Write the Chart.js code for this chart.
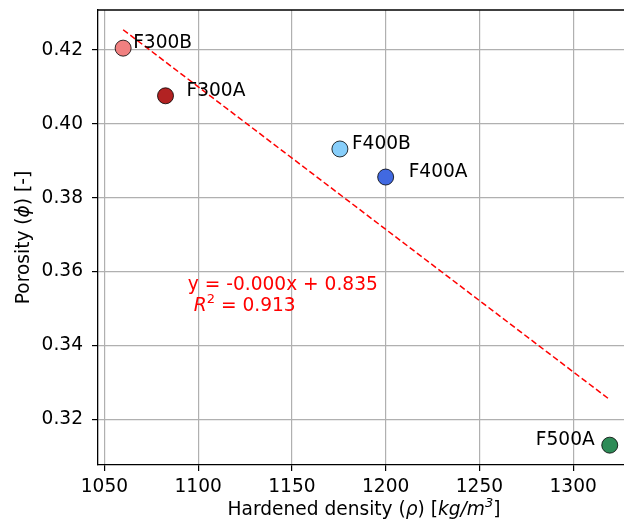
<!DOCTYPE html>
<html>
<head>
<meta charset="utf-8">
<script src="https://cdn.jsdelivr.net/npm/chart.js@4/dist/chart.umd.min.js"></script>
<style>
  html, body { margin: 0; padding: 0; background: #fff; overflow: hidden; }
</style>
</head>
<body>
<canvas id="chart" width="624" height="528"></canvas>
<script>
//DATA
const sampleNames = ["F300B", "F300A", "F400B", "F400A", "F500A"];
const densities = [1060.0, 1082.6, 1175.6, 1200.0, 1319.5]; // kg/m3
const porosities = [0.4205, 0.4076, 0.3932, 0.3856, 0.313];
const xTickValues = [1050, 1100, 1150, 1200, 1250, 1300];
const yTickValues = [0.32, 0.34, 0.36, 0.38, 0.4, 0.42];
const fitText = ["y = -0.000x + 0.835", "0.913"];

//STYLE
const pointColors = ["#f08080", "#b22222", "#87cefa", "#4169e1", "#2e8b57"];
// label offset from the marker, px (negative = text to the left)
const labelDx = [10, 21, 12, 23, -15];
const FONT = '"DejaVu Sans", sans-serif';
const FS = 18.6;

//least squares fit of porosity vs density
function linearFit(xs, ys) {
  const n = xs.length;
  const mx = xs.reduce((a, b) => a + b, 0) / n;
  const my = ys.reduce((a, b) => a + b, 0) / n;
  let sxy = 0, sxx = 0;
  for (let i = 0; i < n; i++) {
    sxy += (xs[i] - mx) * (ys[i] - my);
    sxx += (xs[i] - mx) ** 2;
  }
  const slope = sxy / sxx;
  return { slope, intercept: my - slope * mx };
}
const fit = linearFit(densities, porosities);
const xLo = Math.min(...densities);
const xHi = Math.max(...densities);
const trendPoints = [
  { x: xLo, y: fit.intercept + fit.slope * xLo },
  { x: xHi, y: fit.intercept + fit.slope * xHi },
];

// draw a run of text pieces (normal / italic / superscript)
function richWidth(ctx, segs, size) {
  let w = 0;
  segs.forEach((s) => {
    const sz = s.sup ? size * 0.7 : size;
    ctx.font = (s.it ? "italic " : "") + sz + "px " + FONT;
    w += ctx.measureText(s.t).width;
  });
  return w;
}
function drawRich(ctx, segs, x, y, size, align) {
  let cx = x;
  if (align === "center") cx = x - richWidth(ctx, segs, size) / 2;
  segs.forEach((s) => {
    const sz = s.sup ? size * 0.7 : size;
    ctx.font = (s.it ? "italic " : "") + sz + "px " + FONT;
    ctx.fillText(s.t, cx, s.sup ? y - size * 0.42 : y);
    cx += ctx.measureText(s.t).width;
  });
}

const extras = {
  id: "extras",
  afterDatasetsDraw(chart) {
    const { ctx, chartArea, scales } = chart;
    ctx.save();
    // top spine
    ctx.strokeStyle = "#000";
    ctx.lineWidth = 1.3;
    ctx.beginPath();
    ctx.moveTo(chartArea.left, chartArea.top);
    ctx.lineTo(chartArea.right, chartArea.top);
    ctx.stroke();

    // sample names
    ctx.fillStyle = "#000";
    ctx.textBaseline = "alphabetic";
    ctx.font = FS + "px " + FONT;
    sampleNames.forEach((name, i) => {
      const px = scales.x.getPixelForValue(densities[i]);
      const py = scales.y.getPixelForValue(porosities[i]);
      ctx.textAlign = labelDx[i] < 0 ? "right" : "left";
      ctx.fillText(name, px + labelDx[i], py);
    });

    // fit equation
    ctx.textAlign = "left";
    ctx.fillStyle = "#ff0000";
    const ax = scales.x.getPixelForValue(1094.5);
    const ay = scales.y.getPixelForValue(0.355);
    ctx.font = FS + "px " + FONT;
    ctx.fillText(fitText[0], ax, ay);
    drawRich(ctx, [
      { t: "R", it: true },
      { t: "2", sup: true },
      { t: " = " + fitText[1] },
    ], ax + 6, ay + 21, FS, "left");

    // axis titles
    ctx.fillStyle = "#000";
    drawRich(ctx, [
      { t: "Hardened density (" },
      { t: "ρ", it: true },
      { t: ") [" },
      { t: "kg/m", it: true },
      { t: "3", sup: true, it: true },
      { t: "]" },
    ], 364, 515, FS, "center");

    ctx.translate(29, (chartArea.top + chartArea.bottom) / 2);
    ctx.rotate(-Math.PI / 2);
    drawRich(ctx, [
      { t: "Porosity (" },
      { t: "ϕ", it: true },
      { t: ") [-]" },
    ], 0, 0, FS, "center");
    ctx.restore();
  },
};

const tickFont = { family: FONT, size: FS };
const gridStyle = {
  color: "#b0b0b0",
  lineWidth: 1.2,
  tickColor: "#000",
  tickLength: 6,
  tickWidth: 1.2,
};

new Chart(document.getElementById("chart"), {
  type: "scatter",
  data: {
    datasets: [
      {
        data: densities.map((d, i) => ({ x: d, y: porosities[i] })),
        backgroundColor: pointColors,
        borderColor: "#000",
        borderWidth: 0.8,
        pointRadius: 8,
        pointHoverRadius: 8,
      },
      {
        type: "line",
        data: trendPoints,
        borderColor: "#ff0000",
        borderWidth: 1.5,
        borderDash: [6, 3],
        pointRadius: 0,
        fill: false,
      },
    ],
  },
  options: {
    responsive: false,
    animation: false,
    devicePixelRatio: 1,
    events: [],
    layout: { autoPadding: false, padding: { top: 10, right: 0, left: 0, bottom: 0 } },
    plugins: { legend: { display: false }, tooltip: { enabled: false } },
    scales: {
      x: {
        type: "linear",
        min: 1046.6,
        max: 1327.1,
        grid: gridStyle,
        border: { color: "#000", width: 1.3 },
        ticks: {
          font: tickFont,
          color: "#000",
          padding: 5,
          autoSkip: false,
          maxRotation: 0,
          callback: (v) => String(v),
        },
        afterBuildTicks: (s) => { s.ticks = xTickValues.map((v) => ({ value: v })); },
        afterFit: (s) => {
          s.height = 63;
          s.paddingLeft = 0;
          s.paddingRight = 0;
        },
      },
      y: {
        type: "linear",
        min: 0.30763,
        max: 0.43083,
        grid: gridStyle,
        border: { color: "#000", width: 1.3 },
        ticks: {
          font: tickFont,
          color: "#000",
          padding: 9,
          callback: (v) => v.toFixed(2),
        },
        afterBuildTicks: (s) => { s.ticks = yTickValues.map((v) => ({ value: v })); },
        afterFit: (s) => {
          s.width = 98;
          s.paddingTop = 0;
          s.paddingBottom = 0;
        },
      },
    },
  },
  plugins: [extras],
});
</script>
</body>
</html>
